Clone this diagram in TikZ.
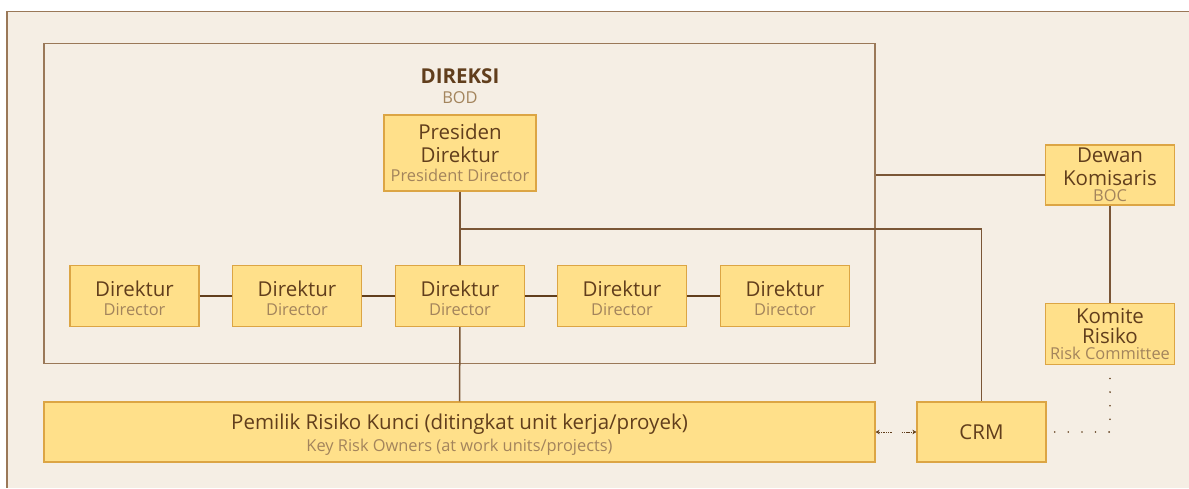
\documentclass[tikz,border=0pt]{standalone}
\usepackage{fontspec}
\setmainfont{Open Sans}
\usetikzlibrary{arrows.meta}
\definecolor{paper}{HTML}{F5EEE4}
\definecolor{frameline}{HTML}{9A7858}
\definecolor{linebrown}{HTML}{7A5636}
\definecolor{boxfill}{HTML}{FFE08A}
\definecolor{boxline}{HTML}{DCA544}
\definecolor{maintext}{HTML}{613E1C}
\definecolor{subtext}{HTML}{A3845C}
\newcommand{\subt}[1]{{\fontsize{16.4}{18}\selectfont\color{subtext}#1}}
\newcommand{\lowstrut}{\rule{0pt}{21pt}}

\begin{document}
\begin{tikzpicture}[x=1pt,y=-1pt,
	box/.style={draw=boxline, line width=1.2pt, fill=boxfill, inner sep=0pt, align=center,
		text=maintext, font=\fontsize{20.5}{22.5}\selectfont},
	dirbox/.style={box, minimum width=129pt, minimum height=61pt},
	link/.style={draw=linebrown, line width=1.5pt},
	chain/.style={draw=maintext, line width=2.6pt},
	dots/.style={draw=maintext, line width=1.8pt, line cap=round, dash pattern=on 0pt off 13.6pt},
	dotarr/.style={draw=maintext, line width=1pt, dash pattern=on 1.4pt off 0.9pt,
		-{Stealth[length=4pt,width=4.5pt]}}]
	\useasboundingbox (0,0) rectangle (1189,488);
	\fill[paper] (6,11) rectangle (1189,488);
	\draw[frameline, line width=1.8pt] (1189,11.5) -- (7,11.5) -- (7,488);

	% board of directors frame
	\node (BOD) [draw=frameline, line width=1.5pt, inner sep=0pt, minimum width=831pt, minimum height=320pt] at (459.5,203.5) {};
	\node (T) [align=center, text=maintext, font=\fontsize{20.5}{22.5}\selectfont] at (460,86) {\textbf{DIREKSI}\\[-3pt]\subt{BOD}};

	\node (P) [box, minimum width=152pt, minimum height=76pt] at (460,153) {Presiden\\Direktur\\[-3.5pt]\subt{President Director}};

	\node (D1) [dirbox] at (134.5,296) {\lowstrut Direktur\\[-3.5pt]\subt{Director}};
	\node (D2) [dirbox] at (297,296) {\lowstrut Direktur\\[-3.5pt]\subt{Director}};
	\node (D3) [dirbox] at (460,296) {\lowstrut Direktur\\[-3.5pt]\subt{Director}};
	\node (D4) [dirbox] at (622,296) {\lowstrut Direktur\\[-3.5pt]\subt{Director}};
	\node (D5) [dirbox] at (785,296) {\lowstrut Direktur\\[-3.5pt]\subt{Director}};

	\node (BOC) [box, minimum width=129pt, minimum height=60pt] at (1110,175) {Dewan\\Komisaris\\[-6pt]\subt{BOC}};
	\node (RC) [dirbox] at (1110,334) {Komite\\[-2.5pt]Risiko\\[-6.5pt]\subt{Risk Committee}};

	\node (KRO) [box, minimum width=831pt, minimum height=60pt] at (459.5,432) {\lowstrut Pemilik Risiko Kunci (ditingkat unit kerja/proyek)\\\subt{Key Risk Owners (at work units/projects)}};
	\node (CRM) [box, minimum width=129pt, minimum height=60pt] at (981.5,432) {CRM};

	\coordinate (j) at (460,229);
	\coordinate (m) at (896.5,432);

	\draw [chain] (D1) -- (D2) (D2) -- (D3) (D3) -- (D4) (D4) -- (D5);
	\draw [link] (P) -- (D3);
	\draw [link] (D3) -- (KRO);
	\draw [link] (j) -| (CRM.north);
	\draw [link] (BOD.east |- BOC.west) -- (BOC.west);
	\draw [link] (BOC) -- (RC);
	\draw [dots] (RC.south) ++(0,13.4) |- (CRM.east);
	\draw [dotarr] ([xshift=-5pt]m) -- (KRO.east);
	\draw [dotarr] ([xshift=5pt]m) -- (CRM.west);

\end{tikzpicture}
\end{document}
